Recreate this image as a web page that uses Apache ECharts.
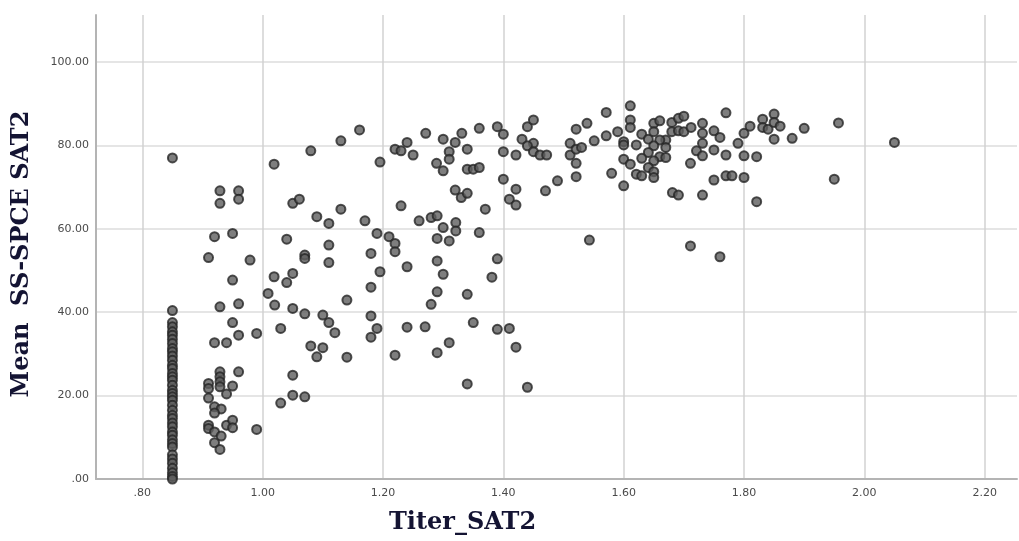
<!DOCTYPE html>
<html>
<head>
<meta charset="utf-8">
<title>Titer_SAT2 vs Mean SS-SPCE SAT2</title>
<script src="https://cdn.jsdelivr.net/npm/echarts@6/dist/echarts.min.js"></script>
<style>
  html, body { margin: 0; padding: 0; background: #fff; }
  #chart { width: 1019px; height: 541px; }
</style>
</head>
<body>
<div id="chart"></div>
<script>
// tick positions on both axes
const xTicks = [0.8, 1.0, 1.2, 1.4, 1.6, 1.8, 2.0, 2.2]
const yTicks = [0, 20, 40, 60, 80, 100]

// column of sera at the lowest titer (0.85)
const baseTiter = 0.85
const baseMeans = [77, 40.4, 37.5, 36.5, 35.3, 34.5, 33.5, 32.5, 31.3, 30.5, 29.5, 28.5,
    27.3, 26.5, 25.3, 24.5, 23.7, 22.5, 21.3, 20.5, 19.7, 18.9, 17.7, 16.5, 15.3, 14.5,
    13.4, 12.5, 11.3, 10.5, 9.4, 8.5, 7.7, 5.8, 4.8, 3.8, 2.6, 1.5, 0.6, 0]

// [titer, mean] below 1.00
const lowPoints = [
    [0.929, 41.3], [0.96, 42], [0.95, 37.5], [0.92, 32.7], [0.94, 32.7], [0.96, 34.5],
    [0.99, 34.9], [0.929, 25.7], [0.929, 24.5], [0.929, 23.3], [0.929, 22.1], [0.96, 25.7],
    [0.91, 22.9], [0.91, 21.7], [0.91, 19.4], [0.95, 22.3], [0.94, 20.4], [0.92, 17.3],
    [0.931, 16.8], [0.92, 15.8], [0.91, 12.9], [0.91, 12.1], [0.94, 12.9], [0.95, 14.1],
    [0.95, 12.3], [0.92, 11.3], [0.931, 10.3], [0.92, 8.7], [0.929, 7.1], [0.99, 11.9],
    [0.929, 69.1], [0.96, 69.1], [0.929, 66.1], [0.96, 67.1], [0.92, 58.1], [0.95, 58.9],
    [0.91, 53.1], [0.979, 52.5], [0.95, 47.7]
]

// [titer, mean] 1.00 - 1.40
const midPoints = [
    [1.02, 41.7], [1.05, 40.9], [1.07, 39.6], [1.10, 39.3], [1.11, 37.5], [1.12, 35.1],
    [1.03, 36.1], [1.08, 31.9], [1.10, 31.5], [1.09, 29.3], [1.14, 29.2], [1.18, 39.1],
    [1.18, 34], [1.19, 36.1], [1.05, 24.9], [1.05, 20.1], [1.07, 19.7], [1.03, 18.2],
    [1.14, 42.9], [1.019, 75.5], [1.08, 78.7], [1.13, 81.1], [1.161, 83.7], [1.195, 76],
    [1.05, 66.1], [1.061, 67.1], [1.09, 62.9], [1.11, 61.3], [1.13, 64.7], [1.17, 61.9],
    [1.19, 58.9], [1.04, 57.5], [1.11, 56.1], [1.07, 53.7], [1.07, 52.9], [1.11, 51.9],
    [1.18, 54.1], [1.195, 49.7], [1.18, 46], [1.019, 48.5], [1.05, 49.3], [1.04, 47.1],
    [1.009, 44.5], [1.22, 79.1], [1.23, 78.7], [1.24, 80.7], [1.25, 77.7], [1.271, 82.9],
    [1.30, 81.5], [1.32, 80.7], [1.331, 82.9], [1.31, 78.5], [1.31, 76.7], [1.34, 79.1],
    [1.36, 84.1], [1.39, 84.5], [1.40, 82.7], [1.40, 78.5], [1.289, 75.7], [1.30, 73.9],
    [1.34, 74.3], [1.35, 74.3], [1.36, 74.7], [1.40, 71.9], [1.32, 69.3], [1.33, 67.5],
    [1.34, 68.5], [1.23, 65.5], [1.37, 64.7], [1.26, 61.9], [1.28, 62.7], [1.29, 63.1],
    [1.30, 60.3], [1.321, 61.5], [1.321, 59.5], [1.36, 59.1], [1.29, 57.7], [1.31, 57.1],
    [1.21, 58.1], [1.22, 56.5], [1.22, 54.5], [1.24, 50.9], [1.29, 52.3], [1.30, 49.1],
    [1.39, 52.8], [1.381, 48.4], [1.29, 44.9], [1.34, 44.3], [1.28, 41.9], [1.24, 36.4],
    [1.27, 36.5], [1.35, 37.5], [1.39, 35.9], [1.41, 36.1], [1.31, 32.7], [1.29, 30.3],
    [1.22, 29.7], [1.421, 31.6], [1.34, 22.8], [1.44, 22.0]
]

// [titer, mean] above 1.40
const highPoints = [
    [1.421, 77.7], [1.431, 81.5], [1.44, 84.5], [1.45, 86.1], [1.45, 80.5], [1.44, 79.9],
    [1.45, 78.5], [1.461, 77.7], [1.472, 77.7], [1.421, 69.5], [1.41, 67.1], [1.421, 65.7],
    [1.511, 80.5], [1.521, 83.9], [1.539, 85.3], [1.511, 77.7], [1.521, 79.1], [1.53, 79.5],
    [1.521, 75.7], [1.521, 72.5], [1.49, 71.5], [1.47, 69.1], [1.543, 57.3],
    [1.571, 87.9], [1.611, 89.5], [1.611, 86.1], [1.611, 84.3], [1.59, 83.3], [1.571, 82.3],
    [1.551, 81.1], [1.60, 80.9], [1.60, 80.1], [1.621, 80.1], [1.63, 82.7], [1.641, 81.5],
    [1.65, 85.3], [1.66, 85.9], [1.65, 83.3], [1.68, 85.5], [1.691, 86.5], [1.70, 87],
    [1.68, 83.3], [1.691, 83.5], [1.70, 83.3], [1.712, 84.3], [1.67, 81.3], [1.66, 81.3],
    [1.65, 79.9], [1.67, 79.5], [1.66, 77.3], [1.641, 78.3], [1.65, 76.3], [1.641, 74.7],
    [1.65, 73.7], [1.65, 72.3], [1.67, 77.1], [1.60, 76.7], [1.611, 75.5], [1.621, 73.1],
    [1.63, 72.7], [1.58, 73.3], [1.60, 70.3], [1.63, 76.9],
    [1.731, 85.3], [1.731, 82.9], [1.731, 80.5], [1.721, 78.7], [1.731, 77.5], [1.711, 75.7],
    [1.75, 83.5], [1.76, 81.9], [1.75, 78.9], [1.77, 87.8], [1.77, 77.7], [1.79, 80.5],
    [1.80, 82.9], [1.81, 84.6], [1.80, 77.5], [1.821, 77.3], [1.831, 86.3], [1.831, 84.3],
    [1.84, 83.9], [1.85, 87.5], [1.85, 85.5], [1.86, 84.6], [1.85, 81.5], [1.88, 81.7],
    [1.90, 84.1], [1.957, 85.4], [1.95, 71.9], [1.75, 71.7], [1.77, 72.7], [1.78, 72.7],
    [1.80, 72.3], [1.821, 66.5], [1.731, 68.1], [1.681, 68.7], [1.691, 68.1], [1.711, 55.9],
    [1.76, 53.3], [2.05, 80.7]
]

// SPSS style: 2 decimals, no leading zero
function spssFmt(v) {
    return v.toFixed(2).replace(/^0/, '')
}

const chart = echarts.init(document.getElementById('chart'))

let points = baseMeans.map(m => [baseTiter, m])
points = points.concat(lowPoints, midPoints, highPoints)

const tickFont = { fontFamily: 'DejaVu Sans', fontSize: 11, color: '#4a4a4a' }
const titleFont = { fontFamily: 'DejaVu Serif', fontWeight: 'bold', fontSize: 24, color: '#141433' }

const option = {
    animation: false,
    grid: { left: 96, right: 2, top: 15, bottom: 62 },
    xAxis: {
        type: 'value',
        min: 0.723,
        max: 2.2537,
        name: 'Titer_SAT2',
        nameLocation: 'middle',
        nameGap: 32,
        nameTextStyle: Object.assign({ padding: [0, 188, 0, 0] }, titleFont),
        axisLine: { show: true, onZero: false, lineStyle: { color: '#b4b4b4', width: 2 } },
        axisTick: { show: false, customValues: xTicks },
        axisLabel: Object.assign({ customValues: xTicks, margin: 9, formatter: spssFmt }, tickFont),
        splitLine: { show: true, lineStyle: { color: '#d2d2d2', width: 1.5 } }
    },
    yAxis: {
        type: 'value',
        min: 0,
        max: 111.27,
        name: 'Mean  SS-SPCE SAT2',
        nameLocation: 'middle',
        nameGap: 62,
        nameTextStyle: Object.assign({ padding: [0, 14, 0, 0] }, titleFont),
        axisLine: { show: true, lineStyle: { color: '#b4b4b4', width: 2 } },
        axisTick: { show: false, customValues: yTicks },
        axisLabel: Object.assign({ customValues: yTicks, margin: 7, formatter: spssFmt }, tickFont),
        splitLine: { show: true, lineStyle: { color: '#dcdcdc', width: 1.5 } }
    },
    series: [
        {
            type: 'scatter',
            symbol: 'circle',
            symbolSize: 9,
            itemStyle: {
                color: '#5e5e5e',
                borderColor: '#262626',
                borderWidth: 2
            },
            data: points
        }
    ]
}

chart.setOption(option)
</script>
</body>
</html>
